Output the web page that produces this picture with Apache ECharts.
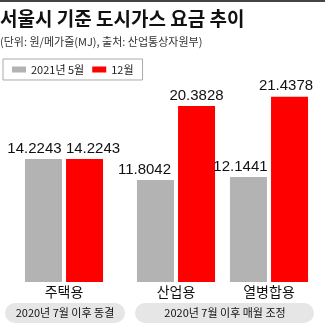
<!DOCTYPE html>
<html><head><meta charset="utf-8">
<script src="https://cdn.jsdelivr.net/npm/echarts@6/dist/echarts.min.js"></script>
<style>html,body{margin:0;padding:0;background:#fff}#c{width:325px;height:325px}</style>
</head><body><div id="c"></div>
<script>
const groupFrozen = ['주택용'];
const groupAdjusted = ['산업용', '열병합용'];
const may2021Frozen = [14.2243];
const dec2021Frozen = [14.2243];
const may2021Adjusted = [11.8042, 12.1441];
const dec2021Adjusted = [20.3828, 21.4378];
const seriesNames = ['2021년 5월', '12월'];
const noteFrozen = '2020년 7월 이후 동결';
const noteAdjusted = '2020년 7월 이후 매월 조정';

const GRAY = '#b3b3b3', RED = '#ff0000';
const numFont = 'Liberation Sans, Arial, sans-serif';
const krFont = '"Noto Sans CJK KR", sans-serif';

function labelCfg(dx) {
  return { show: true, position: 'top', distance: 3, offset: [dx, 0],
    fontFamily: numFont, fontSize: 15, color: '#111',
    formatter: p => p.value.toFixed(4) };
}
function mkData(vals, offs) {
  return vals.map((v, i) => ({ value: v, label: labelCfg(offs[i]) }));
}

const chart = echarts.init(document.getElementById('c'));
chart.setOption({
  animation: false,
  textStyle: { fontFamily: krFont },
  title: {
    text: '서울시 기준 도시가스 요금 추이',
    subtext: '(단위: 원/메가줄(MJ), 출처: 산업통상자원부)',
    left: 0, top: 9, padding: 0, itemGap: 8,
    textStyle: { fontFamily: krFont, fontSize: 19, fontWeight: 'bold', color: '#111' },
    subtextStyle: { fontFamily: krFont, fontSize: 11, color: '#333' }
  },
  legend: {
    data: seriesNames,
    left: 3, top: 59,
    padding: [5, 9], borderColor: '#aaa', borderWidth: 1, borderRadius: 0,
    icon: 'rect', itemWidth: 14, itemHeight: 6, itemGap: 8,
    textStyle: { fontFamily: krFont, fontSize: 11, color: '#222' }
  },
  grid: [
    { left: 17.5, width: 93, top: 66, bottom: 43 },
    { left: 129.5, width: 186, top: 66, bottom: 43 }
  ],
  xAxis: [0, 1].map(i => ({
    type: 'category', gridIndex: i, data: i === 0 ? groupFrozen : groupAdjusted,
    axisLine: { show: false }, axisTick: { show: false },
    axisLabel: { margin: 3, fontFamily: krFont, fontSize: 14, color: '#111' }
  })),
  yAxis: [0, 1].map(i => ({
    type: 'value', gridIndex: i, min: 0, max: 25, show: false,
    splitLine: { show: false }
  })),
  series: [
    { name: seriesNames[0], type: 'bar', xAxisIndex: 0, yAxisIndex: 0, barWidth: 37, barGap: '11%',
      itemStyle: { color: GRAY }, data: mkData(may2021Frozen, [-9]) },
    { name: seriesNames[1], type: 'bar', xAxisIndex: 0, yAxisIndex: 0, barWidth: 37, barGap: '11%',
      itemStyle: { color: RED }, data: mkData(dec2021Frozen, [8.5]) },
    { name: seriesNames[0], type: 'bar', xAxisIndex: 1, yAxisIndex: 1, barWidth: 37, barGap: '11%',
      itemStyle: { color: GRAY }, data: mkData(may2021Adjusted, [-11, -8]) },
    { name: seriesNames[1], type: 'bar', xAxisIndex: 1, yAxisIndex: 1, barWidth: 37, barGap: '11%',
      itemStyle: { color: RED }, data: mkData(dec2021Adjusted, [0, -3.5]) }
  ],
  graphic: [
    { type: 'rect', left: 0, top: 0, shape: { width: 325, height: 2 }, style: { fill: '#444' } },
    { type: 'group', left: 5, top: 303, children: [
      { type: 'rect', shape: { x: 0, y: 0, width: 120, height: 20, r: 10 }, style: { fill: '#e6e6e6' } },
      { type: 'text', x: 60, y: 10, style: { text: noteFrozen, fontFamily: krFont, fontSize: 11, fill: '#111', align: 'center', verticalAlign: 'middle' } }
    ]},
    { type: 'group', left: 135, top: 303, children: [
      { type: 'rect', shape: { x: 0, y: 0, width: 179, height: 20, r: 10 }, style: { fill: '#e6e6e6' } },
      { type: 'text', x: 90, y: 10, style: { text: noteAdjusted, fontFamily: krFont, fontSize: 11, fill: '#111', align: 'center', verticalAlign: 'middle' } }
    ]}
  ]
});
</script></body></html>
